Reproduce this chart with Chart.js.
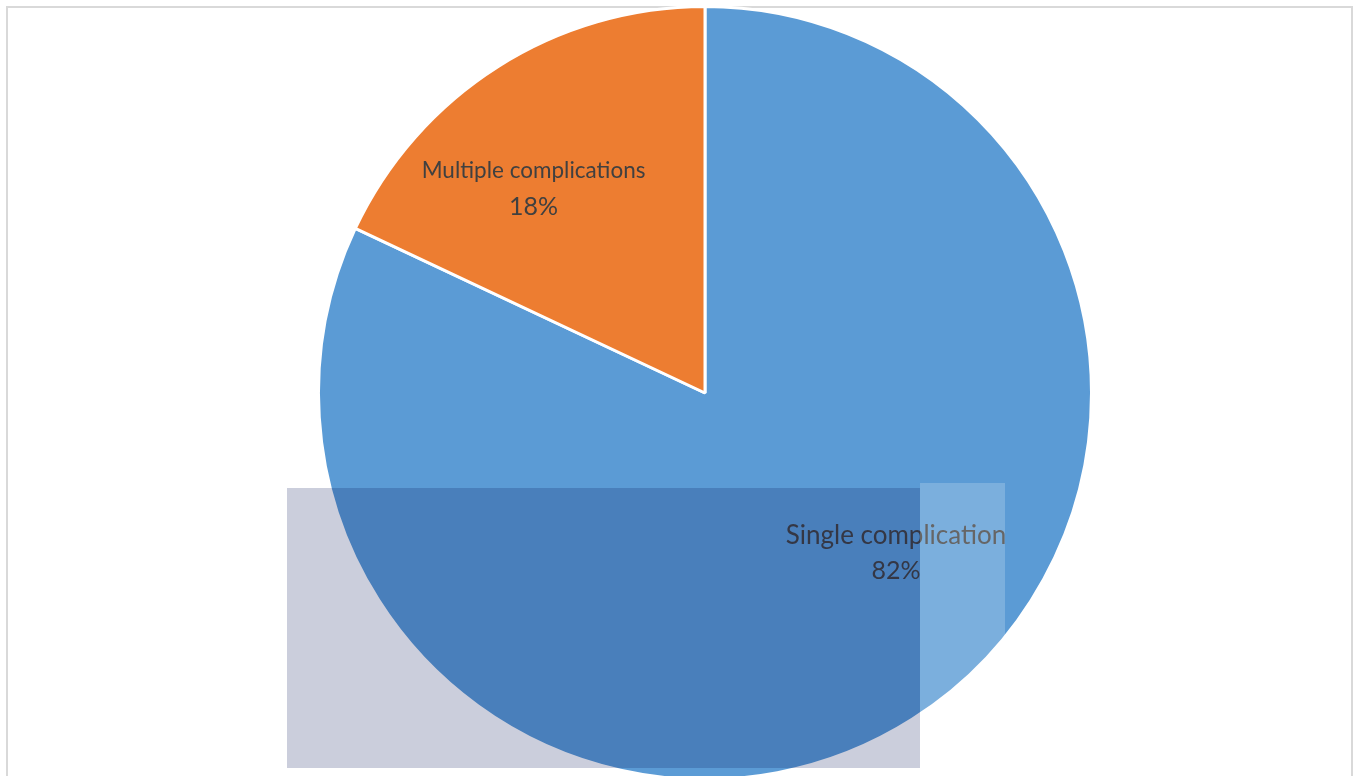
<!DOCTYPE html>
<html>
<head>
<meta charset="utf-8">
<script src="https://cdn.jsdelivr.net/npm/chart.js@4.4.0/dist/chart.umd.min.js"></script>
<style>
  html, body { margin: 0; padding: 0; background: #fff; overflow: hidden; width: 1357px; height: 776px; }
  #frame { position: absolute; left: 6px; top: 6px; width: 1347px; height: 800px; border: 2px solid #d9d9d9; box-sizing: border-box; }
  #wrap { position: absolute; left: 0; top: 0; width: 1357px; height: 800px; }
  .wm { position: absolute; pointer-events: none; }
</style>
</head>
<body>
<div id="frame"></div>
<div id="wrap"><canvas id="myChart"></canvas></div>
<!-- watermark overlay seen in the picture -->
<div class="wm" style="left:287px;top:488px;width:633px;height:280px;background:rgba(9,23,91,0.21)"></div>
<div class="wm" style="left:920px;top:483px;width:85px;height:293px;background:rgba(255,255,255,0.2)"></div>
<script>
// data
var categories = ["Single complication", "Multiple complications"];
var values = [82, 18];
var colors = ["#5b9bd5", "#ed7d31"];
var pctLabels = ["82%", "18%"];

// label placement (fraction of radius, angle in deg clockwise from 12 o'clock)
var labelPos = [
  { r: 0.645, a: 130, size: 26 },
  { r: 0.69, a: -40, size: 22.5 }
];

var labelPlugin = {
  id: "pieLabels",
  afterDatasetsDraw: function(chart) {
    var c = chart.ctx;
    var meta = chart.getDatasetMeta(0);
    c.save();
    c.fillStyle = "#404040";
    c.textAlign = "center";
    c.textBaseline = "middle";
    meta.data.forEach(function(arc, i) {
      var p = labelPos[i];
      var ang = (p.a - 90) * Math.PI / 180;
      var x = arc.x + Math.cos(ang) * arc.outerRadius * p.r;
      var y = arc.y + Math.sin(ang) * arc.outerRadius * p.r;
      c.font = p.size + "px Lato";
      c.fillText(categories[i], x, y - 18);
      c.font = "25px Lato";
      c.fillText(pctLabels[i], x, y + 18);
    });
    c.restore();
  }
};

var ctx = document.getElementById("myChart").getContext("2d");
var chart = new Chart(ctx, {
  type: "pie",
  data: {
    labels: categories,
    datasets: [{
      data: values,
      backgroundColor: colors,
      borderColor: "#ffffff",
      borderWidth: 3
    }]
  },
  options: {
    responsive: true,
    maintainAspectRatio: false,
    animation: false,
    layout: { padding: { left: 53, right: 0, top: 5, bottom: 19 } },
    plugins: {
      legend: { display: false },
      tooltip: { enabled: false }
    }
  },
  plugins: [labelPlugin]
});
</script>
</body>
</html>
